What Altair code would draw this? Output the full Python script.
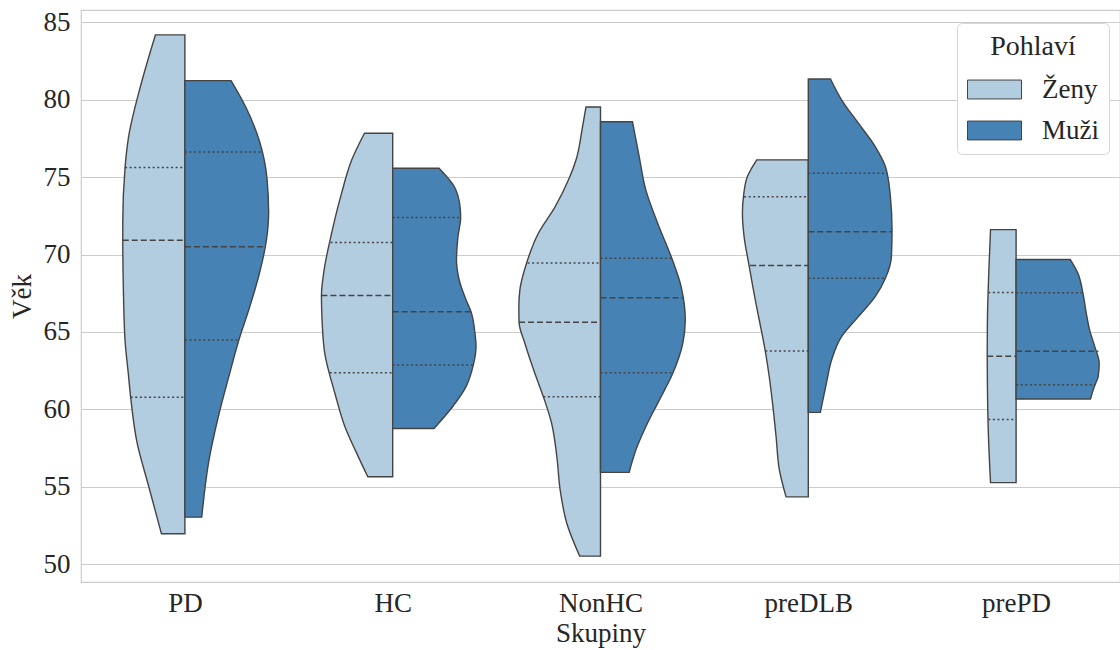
import json
import altair as alt
import pandas as pd

# ---------------- data ----------------
groups = ["PD", "HC", "NonHC", "preDLB", "prePD"]
sexes = ["Ženy", "Muži"]
colors = ["#b3cde0", "#4682b4"]

# violin outlines: age levels and half-widths (fraction of category band)
PD_F_age = [84.19, 80.81, 77.53, 75.62, 72.08, 70.93, 67.72, 64.45, 62.26, 60.78, 57.90, 55.07, 51.97]
PD_F_w = [0.142, 0.215, 0.272, 0.288, 0.299, 0.299, 0.296, 0.288, 0.272, 0.261, 0.231, 0.175, 0.113]
PD_M_age = [81.24, 79.50, 77.32, 74.92, 72.74, 70.99, 68.81, 66.63, 64.45, 62.05, 59.43, 56.81, 53.04]
PD_M_w = [0.222, 0.294, 0.359, 0.395, 0.403, 0.393, 0.359, 0.312, 0.259, 0.210, 0.159, 0.117, 0.081]

HC_F_age = [77.84, 76.12, 73.97, 71.38, 69.01, 67.35, 65.78, 63.62, 61.03, 58.88, 57.16, 55.65]
HC_F_w = [0.136, 0.197, 0.246, 0.294, 0.330, 0.343, 0.340, 0.327, 0.278, 0.230, 0.173, 0.120]
HC_M_age = [75.58, 74.40, 73.10, 72.39, 71.16, 69.66, 68.36, 67.07, 66.31, 64.91, 64.05, 62.87, 61.47, 60.17, 58.77]
HC_M_w = [0.223, 0.296, 0.324, 0.327, 0.314, 0.307, 0.320, 0.353, 0.377, 0.396, 0.401, 0.388, 0.353, 0.288, 0.199]

NonHC_F_age = [79.53, 78.06, 76.34, 74.83, 73.10, 71.38, 69.44, 67.72, 66.64, 65.63, 64.27, 62.33, 60.82, 59.09, 56.94, 54.78, 52.63, 50.52]
NonHC_F_w = [0.070, 0.089, 0.113, 0.154, 0.218, 0.299, 0.356, 0.388, 0.393, 0.392, 0.364, 0.316, 0.275, 0.235, 0.210, 0.194, 0.162, 0.100]
NonHC_M_age = [78.58, 76.34, 74.18, 72.03, 69.87, 67.93, 65.78, 64.27, 62.33, 60.60, 58.88, 57.37, 55.93]
NonHC_M_w = [0.154, 0.186, 0.218, 0.275, 0.340, 0.388, 0.408, 0.396, 0.348, 0.283, 0.218, 0.170, 0.138]

preDLB_F_age = [76.12, 75.04, 73.75, 72.67, 71.16, 69.29, 66.85, 64.70, 63.77, 62.11, 60.39, 58.23, 56.08, 54.35]
preDLB_F_w = [0.248, 0.293, 0.312, 0.317, 0.309, 0.285, 0.252, 0.220, 0.207, 0.188, 0.172, 0.155, 0.139, 0.107]
preDLB_M_age = [81.34, 80.00, 78.49, 76.98, 75.69, 73.75, 71.59, 69.87, 68.47, 67.28, 65.99, 64.70, 63.19, 61.68, 59.81]
preDLB_M_w = [0.107, 0.160, 0.241, 0.322, 0.371, 0.395, 0.403, 0.400, 0.371, 0.322, 0.241, 0.160, 0.112, 0.087, 0.058]

prePD_F_age = [71.61, 68.99, 65.76, 63.44, 61.46, 58.24, 55.27]
prePD_F_w = [0.123, 0.131, 0.138, 0.139, 0.138, 0.133, 0.123]
prePD_M_age = [69.68, 68.77, 67.48, 66.19, 65.12, 64.04, 62.97, 62.11, 61.57, 60.67]
prePD_M_w = [0.261, 0.298, 0.322, 0.338, 0.354, 0.379, 0.400, 0.395, 0.379, 0.358]

# quartiles (Q1, median, Q3) per group, women then men, with half-widths at each
F_q1 = [60.78, 62.37, 60.82, 63.77, 59.35]
F_q1_w = [0.261, 0.303, 0.275, 0.207, 0.134]
F_med = [70.93, 67.35, 65.63, 69.29, 63.44]
F_med_w = [0.299, 0.343, 0.392, 0.280, 0.139]
F_q3 = [75.62, 70.78, 69.46, 73.73, 67.55]
F_q3_w = [0.288, 0.299, 0.351, 0.309, 0.134]
M_q1 = [64.49, 62.87, 62.37, 68.47, 61.59]
M_q1_w = [0.262, 0.388, 0.345, 0.371, 0.382]
M_med = [70.51, 66.31, 67.22, 71.47, 63.76]
M_med_w = [0.382, 0.377, 0.401, 0.403, 0.396]
M_q3 = [76.62, 72.39, 69.76, 75.26, 67.53]
M_q3_w = [0.367, 0.327, 0.345, 0.379, 0.317]

# ---------------- tables ----------------
profiles = {
    ("PD", "Ženy"): (PD_F_age, PD_F_w), ("PD", "Muži"): (PD_M_age, PD_M_w),
    ("HC", "Ženy"): (HC_F_age, HC_F_w), ("HC", "Muži"): (HC_M_age, HC_M_w),
    ("NonHC", "Ženy"): (NonHC_F_age, NonHC_F_w), ("NonHC", "Muži"): (NonHC_M_age, NonHC_M_w),
    ("preDLB", "Ženy"): (preDLB_F_age, preDLB_F_w), ("preDLB", "Muži"): (preDLB_M_age, preDLB_M_w),
    ("prePD", "Ženy"): (prePD_F_age, prePD_F_w), ("prePD", "Muži"): (prePD_M_age, prePD_M_w),
}

rows = []
for (g, s), (ages, ws) in profiles.items():
    c = groups.index(g)
    side = -1 if s == "Ženy" else 1
    for a, w in zip(ages, ws):
        lo, hi = (c - w, c) if side < 0 else (c, c + w)
        rows.append({"key": g + "-" + s, "group": g, "sex": s, "age": a, "lo": lo, "hi": hi})
df_v = pd.DataFrame(rows)

qrows = []
for i, g in enumerate(groups):
    for kind, fv, fw, mv, mw in [("q1", F_q1, F_q1_w, M_q1, M_q1_w),
                                 ("med", F_med, F_med_w, M_med, M_med_w),
                                 ("q3", F_q3, F_q3_w, M_q3, M_q3_w)]:
        qrows.append({"kind": kind, "age": fv[i], "lo": i - fw[i], "hi": i})
        qrows.append({"kind": kind, "age": mv[i], "lo": i, "hi": i + mw[i]})
df_q = pd.DataFrame(qrows)

FONT = "Liberation Serif"
FS = 27
label_expr = json.dumps(groups) + "[datum.value]"

xscale = alt.Scale(domain=[-0.5, 4.5], nice=False, zero=False)
yscale = alt.Scale(domain=[48.85, 85.8], nice=False, zero=False)

x_axis = alt.Axis(values=[0, 1, 2, 3, 4], labelExpr=label_expr, grid=False, ticks=False,
                  domain=False, title="Skupiny", labelFontSize=FS, titleFontSize=FS,
                  labelPadding=8, titlePadding=4, labelFont=FONT, titleFont=FONT,
                  labelColor="#262626", titleColor="#262626", titleFontWeight="normal")
y_axis = alt.Axis(values=[50, 55, 60, 65, 70, 75, 80, 85], grid=True, gridColor="#cccccc",
                  ticks=False, domain=False, title="Věk", labelFontSize=FS, titleFontSize=FS,
                  labelPadding=11, titlePadding=7, labelFont=FONT, titleFont=FONT,
                  labelColor="#262626", titleColor="#262626", titleFontWeight="normal")

legend = alt.Legend(
    title="Pohlaví", orient="none", legendX=876, legendY=13,
    titleFont=FONT, labelFont=FONT, titleFontSize=28, labelFontSize=FS,
    titleFontWeight="normal", titleColor="#262626", labelColor="#262626",
    titleAnchor="middle", titleAlign="center", titlePadding=1,
    symbolType="M-1,-0.35L1,-0.35L1,0.35L-1,0.35Z", symbolSize=2916,
    symbolStrokeColor="#444444", symbolStrokeWidth=1, symbolOpacity=1,
    labelOffset=20, rowPadding=-3, padding=10,
    fillColor="white", strokeColor="#d6d6d6", cornerRadius=5,
)

violins = alt.Chart(df_v).mark_area(
    orient="horizontal", interpolate="monotone", stroke="#444444",
    strokeWidth=1.4, opacity=1, strokeJoin="miter"
).encode(
    y=alt.Y("age:Q", scale=yscale, axis=y_axis),
    x=alt.X("lo:Q", scale=xscale, axis=x_axis, stack=None),
    x2="hi:Q",
    color=alt.Color("sex:N", scale=alt.Scale(domain=sexes, range=colors), legend=legend),
    detail="key:N",
)

med = alt.Chart(df_q).transform_filter("datum.kind == 'med'").mark_rule(
    color="#444444", strokeWidth=1.5, strokeDash=[6, 3]
).encode(y="age:Q", x="lo:Q", x2="hi:Q")

quart = alt.Chart(df_q).transform_filter("datum.kind != 'med'").mark_rule(
    color="#444444", strokeWidth=1.5, strokeDash=[2, 2.6]
).encode(y="age:Q", x="lo:Q", x2="hi:Q")

chart = alt.layer(violins, med, quart).properties(
    width=1039, height=572,
    autosize=alt.AutoSizeParams(type="none"),
    padding={"left": 81, "top": 10, "right": 0, "bottom": 68},
    background="white",
).configure_view(stroke="#cccccc", strokeWidth=1.2)

chart.save("out.html", embed_options={"renderer": "svg", "actions": False})
